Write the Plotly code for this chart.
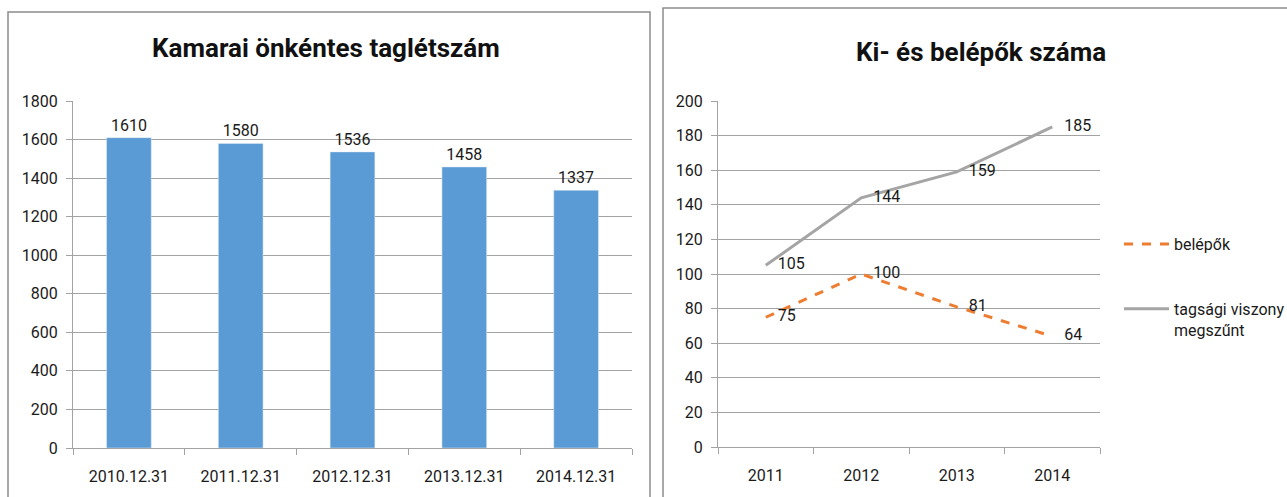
import plotly.graph_objects as go

# Left chart data
bar_categories = ["2010.12.31", "2011.12.31", "2012.12.31", "2013.12.31", "2014.12.31"]
bar_values = [1610, 1580, 1536, 1458, 1337]

# Right chart data
years = ["2011", "2012", "2013", "2014"]
belepok = [75, 100, 81, 64]
megszunt = [105, 144, 159, 185]

W, H = 1287, 497
FONT = "Roboto, Lato, sans-serif"
GRID = "#A3A3A3"
TXT = "#1a1a1a"
PAD = "\u00a0\u00a0\u00a0"

def px(x):
    return x / W

def py(y):
    return 1 - y / H

fig = go.Figure()

fig.add_trace(go.Bar(
    x=bar_categories, y=bar_values, marker_color="#5B9BD5",
    text=[str(v) for v in bar_values], textposition="outside",
    textfont=dict(size=16, color=TXT), cliponaxis=False,
    xaxis="x", yaxis="y", showlegend=False,
))

fig.add_trace(go.Scatter(
    x=years, y=belepok, mode="lines+text", name="belépők",
    legendgroup="a",
    line=dict(color="#ED7D31", width=3, dash="dash"),
    text=[PAD + str(v) for v in belepok], textposition="middle right",
    textfont=dict(size=16, color=TXT),
    xaxis="x2", yaxis="y2",
))
fig.add_trace(go.Scatter(
    x=years, y=megszunt, mode="lines+text", name="tagsági viszony<br>megszűnt",
    legendgroup="b",
    line=dict(color="#A5A5A5", width=3),
    text=[PAD + str(v) for v in megszunt], textposition="middle right",
    textfont=dict(size=16, color=TXT),
    xaxis="x2", yaxis="y2",
))

axis_common = dict(
    showline=True, linecolor=GRID, linewidth=1, automargin=False,
    tickfont=dict(size=16, color=TXT, family=FONT),
)

fig.update_layout(
    width=W, height=H, autosize=False,
    margin=dict(l=0, r=0, t=0, b=0, pad=0, autoexpand=False),
    paper_bgcolor="white", plot_bgcolor="white",
    font=dict(family=FONT, size=16, color=TXT),
    bargap=0.6,
    xaxis=dict(domain=[px(73), px(632)], anchor="y", ticks="outside",
               tickson="boundaries", ticklen=6, tickcolor=GRID,
               ticklabelstandoff=14, showgrid=False, **axis_common),
    yaxis=dict(domain=[py(448), py(101)], anchor="x", range=[0, 1800],
               dtick=200, showgrid=True, gridcolor=GRID, gridwidth=1,
               ticks="outside", ticklen=6, tickcolor=GRID, zeroline=False,
               ticklabelstandoff=5, **axis_common),
    xaxis2=dict(domain=[px(718), px(1100)], anchor="y2", ticks="outside",
                tickson="boundaries", ticklen=6, tickcolor=GRID,
                ticklabelstandoff=14, showgrid=False, range=[-0.5, 3.5],
                **axis_common),
    yaxis2=dict(domain=[py(447), py(101)], anchor="x2", range=[0, 200],
                dtick=20, showgrid=True, gridcolor=GRID, gridwidth=1,
                ticks="outside", ticklen=6, tickcolor=GRID, zeroline=False,
                ticklabelstandoff=5, **axis_common),
    legend=dict(x=px(1119), y=py(227), xanchor="left", yanchor="top",
                font=dict(size=16, color=TXT), tracegroupgap=41,
                itemwidth=45, valign="top", bgcolor="rgba(0,0,0,0)",
                borderwidth=0),
    annotations=[
        dict(text="<b>Kamarai önkéntes taglétszám</b>", x=px(326), y=py(48),
             xref="paper", yref="paper", showarrow=False,
             xanchor="center", yanchor="middle",
             font=dict(size=26, color="#111", family=FONT)),
        dict(text="<b>Ki- és belépők száma</b>", x=px(981), y=py(52),
             xref="paper", yref="paper", showarrow=False,
             xanchor="center", yanchor="middle",
             font=dict(size=26, color="#111", family=FONT)),
    ],
    shapes=[
        dict(type="rect", xref="paper", yref="paper",
             x0=px(8), x1=px(650), y0=-0.1, y1=py(12),
             line=dict(color="#8C8C8C", width=1.5)),
        dict(type="rect", xref="paper", yref="paper",
             x0=px(663), x1=1.1, y0=-0.1, y1=py(8),
             line=dict(color="#8C8C8C", width=1.5)),
    ],
)

fig.write_html(
    "out.html",
    config={"displayModeBar": False, "responsive": False},
    post_script="document.body.style.margin='0';document.body.style.overflow='hidden';",
)
